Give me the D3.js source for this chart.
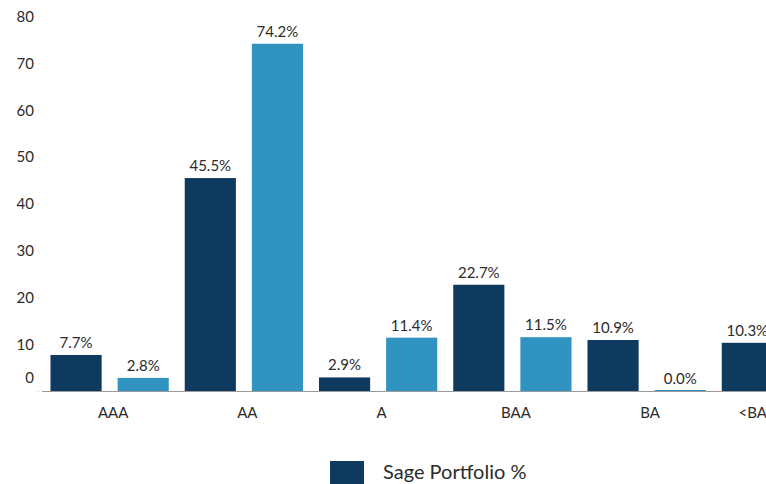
<!DOCTYPE html>
<html>
<head>
<meta charset="utf-8">
<script src="https://cdn.jsdelivr.net/npm/d3@7"></script>
<style>
  html, body { margin: 0; padding: 0; background: #fff; overflow: hidden; }
  svg { display: block; }
  text { font-family: Lato, "Open Sans", sans-serif; fill: #2b2b2b; }
</style>
</head>
<body>
<svg id="chart" width="766" height="484"></svg>
<script>
const categories = ["AAA", "AA", "A", "BAA", "BA", "<BA"];
const seriesNames = ["Sage Portfolio %", "Benchmark %"];
const sageValues = [7.7, 45.5, 2.9, 22.7, 10.9, 10.3];
const benchValues = [2.8, 74.2, 11.4, 11.5, 0.0, 0.0];
const yTicks = [0, 10, 20, 30, 40, 50, 60, 70, 80];
const colors = ["#0d3a5e", "#3193c0"];

const W = 766;
const svg = d3.select("#chart");
const baseY = 391, topY = 16.6;
const x0 = d3.scaleBand().domain(categories).range([42.5, 848]).paddingInner(0).paddingOuter(0);
const x1 = d3.scaleBand().domain(seriesNames).range([0, x0.bandwidth()]).paddingInner(0.238).paddingOuter(0.119);
const y = d3.scaleLinear().domain([0, 80]).range([baseY, topY]);

// y axis (labels only)
const yAxis = svg.append("g").attr("transform", "translate(40,0)")
  .call(d3.axisLeft(y).tickValues(yTicks).tickSize(3).tickPadding(3).tickFormat(d3.format("d")));
yAxis.select(".domain").remove();
yAxis.selectAll(".tick line").attr("stroke", "#e4eef5");
yAxis.selectAll(".tick text").attr("font-size", 15).attr("fill", "#2b2b2b")
  .style("font-family", "Lato, 'Open Sans', sans-serif")
  .attr("dy", d => d === 0 ? "-0.55em" : "0.32em");

// bars
const rows = categories.map((c, i) => ({ cat: c, vals: [sageValues[i], benchValues[i]] }));
const groups = svg.append("g").selectAll("g").data(rows).join("g")
  .attr("transform", d => `translate(${x0(d.cat)},0)`);

groups.selectAll("rect").data(d => d.vals.map((v, j) => ({ v, j, s: seriesNames[j] }))).join("rect")
  .attr("x", d => x1(d.s))
  .attr("width", x1.bandwidth())
  .attr("y", d => Math.min(y(d.v), baseY - 1))
  .attr("height", d => Math.max(baseY - y(d.v), 1))
  .attr("fill", d => colors[d.j]);

groups.selectAll("text").data(d => d.vals.map((v, j) => ({ v, j, s: seriesNames[j] }))).join("text")
  .attr("x", d => x1(d.s) + x1.bandwidth() / 2)
  .attr("y", d => y(d.v) - 7)
  .attr("text-anchor", "middle")
  .attr("font-size", 15)
  .text(d => d.v.toFixed(1) + "%");

// x axis baseline
svg.append("line").attr("x1", 42).attr("x2", 848).attr("y1", baseY + 0.5).attr("y2", baseY + 0.5)
  .attr("stroke", "#9a9a9a").attr("stroke-width", 1.2);

// category labels (kept inside the visible area)
svg.append("g").selectAll("text").data(categories).join("text")
  .attr("y", 418)
  .attr("font-size", 15)
  .text(d => d)
  .each(function (d) {
    const t = d3.select(this);
    const w = this.getComputedTextLength();
    let cx = x0(d) + x0.bandwidth() / 2 + 3.5;
    if (cx + w / 2 > W) cx = W - w / 2 + 1;
    t.attr("x", cx).attr("text-anchor", "middle");
  });

// legend
const legend = svg.append("g");
legend.append("rect").attr("x", 330).attr("y", 461).attr("width", 34).attr("height", 30).attr("fill", colors[0]);
legend.append("text").attr("x", 383).attr("y", 479).attr("font-size", 20).text(seriesNames[0]);
</script>
</body>
</html>
